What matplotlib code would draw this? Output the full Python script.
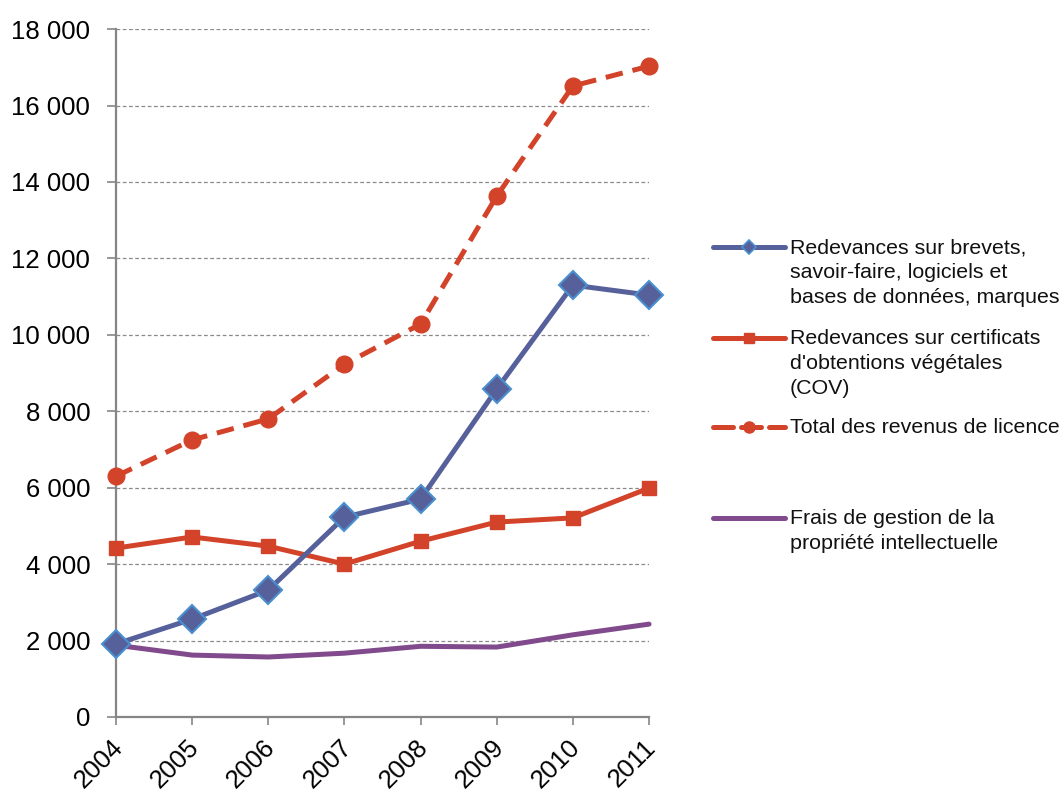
import matplotlib
matplotlib.use("Agg")
import matplotlib.pyplot as plt
import matplotlib.transforms as mtransforms
from matplotlib.lines import Line2D
from matplotlib.ticker import FuncFormatter

plt.rcParams['font.family'] = ['Liberation Sans', 'DejaVu Sans']

years = ['2004', '2005', '2006', '2007', '2008', '2009', '2010', '2011']
brevets = [1910, 2560, 3320, 5230, 5700, 8580, 11300, 11040]
cov = [4420, 4710, 4470, 4000, 4600, 5100, 5210, 5990]
total = [6300, 7250, 7800, 9230, 10280, 13630, 16510, 17030]
frais = [1880, 1620, 1570, 1670, 1850, 1830, 2150, 2430]

labels = [
    "Redevances sur brevets,\nsavoir-faire, logiciels et\nbases de données, marques",
    "Redevances sur certificats\nd'obtentions végétales\n(COV)",
    "Total des revenus de licence",
    "Frais de gestion de la\npropriété intellectuelle",
]

c_blue = '#56609A'
c_blue_edge = '#4A90D0'
c_red = '#D2432A'
c_purple = '#804A8C'
c_axis = '#868686'

W, H = 1064, 792
fig = plt.figure(figsize=(W / 100, H / 100), dpi=100)
ax = fig.add_axes([0.109, 0.0947, 0.501, 0.8686])

x = list(range(len(years)))
lw = 3.6

ax.plot(x, frais, color=c_purple, lw=lw, solid_capstyle='round', zorder=3)
ax.plot(x, cov, color=c_red, lw=lw, marker='s', markersize=10,
        markerfacecolor=c_red, markeredgecolor=c_red, zorder=4)
ax.plot(x, total, color=c_red, lw=lw, dashes=(3.5, 2.0), marker='o', markersize=12,
        markerfacecolor=c_red, markeredgecolor=c_red, zorder=5)
ax.plot(x, brevets, color=c_blue, lw=lw, marker='D', markersize=14,
        markerfacecolor=c_blue, markeredgecolor=c_blue_edge, markeredgewidth=1.5, zorder=6)

ax.set_xlim(0, len(years) - 1)
ax.set_ylim(0, 18000)
ax.set_yticks(range(0, 18001, 2000))
ax.yaxis.set_major_formatter(FuncFormatter(lambda v, p: f"{int(v):,}".replace(",", " ")))
ax.set_xticks(x)
ax.set_xticklabels(years, rotation=45, ha='right', va='top', rotation_mode='anchor')
ax.grid(axis='y', color='#8a8a8a', linestyle=(0, (3, 2)), lw=0.9)
ax.set_axisbelow(True)

for s in ['top', 'right']:
    ax.spines[s].set_visible(False)
for s in ['left', 'bottom']:
    ax.spines[s].set_color(c_axis)
    ax.spines[s].set_linewidth(1.6)

ax.tick_params(axis='y', length=6.5, width=1.2, color=c_axis, labelsize=18.5, pad=12)
ax.tick_params(axis='x', length=6, width=1.2, color=c_axis, labelsize=18.5, pad=7)
shift = mtransforms.ScaledTranslation(-5 / 100, 0, fig.dpi_scale_trans)
for lab in ax.get_xticklabels():
    lab.set_transform(lab.get_transform() + shift)
for line in ax.lines:
    line.set_clip_on(False)

# Legend drawn by hand so each key lines up with the first line of its label
def fx(px):
    return px / W

def fy(py):
    return 1 - py / H

legend_keys = [
    dict(color=c_blue, marker='D', markersize=7, markerfacecolor=c_blue,
         markeredgecolor=c_blue_edge, markeredgewidth=1.2),
    dict(color=c_red, marker='s', markersize=7.5, markerfacecolor=c_red,
         markeredgecolor=c_red),
    dict(color=c_red, marker='o', markersize=8, markerfacecolor=c_red,
         markeredgecolor=c_red, dashes=(4.0, 1.6)),
    dict(color=c_purple),
]
key_rows = [247, 338, 427, 518]
for key, row, text in zip(legend_keys, key_rows, labels):
    seg = Line2D([fx(713), fx(749), fx(785)], [fy(row)] * 3, transform=fig.transFigure,
                 lw=lw, solid_capstyle='round', dash_capstyle='round',
                 markevery=[1], **key)
    fig.add_artist(seg)
    fig.text(fx(790), fy(row - 9), text, fontsize=15.4, ha='left', va='top',
             linespacing=1.39, color='#111111')

fig.savefig('out.png', dpi=100)
